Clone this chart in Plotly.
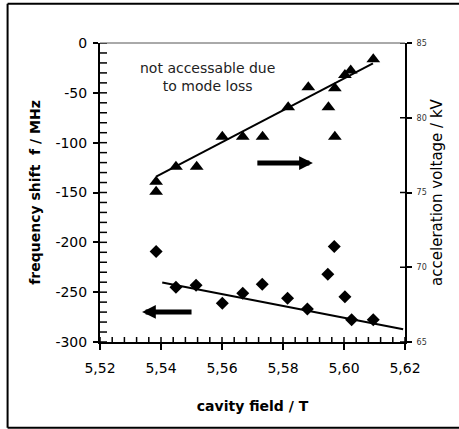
import plotly.graph_objects as go

# ---- data ----
field_tri = [5.5384, 5.5384, 5.5449, 5.5517, 5.5601, 5.5668, 5.5733, 5.5817,
             5.5883, 5.5949, 5.5970, 5.5970, 5.6003, 5.6022, 5.6096]
voltage_kv = [75.72, 75.05, 76.73, 76.73, 78.73, 78.73, 78.73, 80.70,
              82.04, 80.70, 78.73, 81.97, 82.86, 83.16, 83.91]

field_dia = [5.5384, 5.5449, 5.5515, 5.5601, 5.5668, 5.5732, 5.5815, 5.5880,
             5.5947, 5.5968, 5.6003, 5.6025, 5.6096]
shift_mhz = [-209.3, -245.0, -243.0, -261.1, -251.1, -242.0, -256.1, -266.8,
             -232.0, -204.3, -254.5, -277.8, -277.8]

# linear trend lines (end points)
trend_v_field = [5.5384, 5.6095]
trend_v_kv = [76.06, 83.63]
trend_f_field = [5.5404, 5.6194]
trend_f_mhz = [-240.4, -287.2]

x_tick_vals = [5.52, 5.54, 5.56, 5.58, 5.60, 5.62]
x_tick_text = ["5,52", "5,54", "5,56", "5,58", "5,60", "5,62"]
y_tick_vals = [-300, -250, -200, -150, -100, -50, 0]
y_tick_text = ["-300", "-250", "-200", "-150", "-100", "-50", "0"]
y2_tick_vals = [65, 70, 75, 80, 85]
y2_tick_text = ["65", "70", "75", "80", "85"]

X_RANGE = [5.52, 5.62]
Y_RANGE = [-300, 0]
Y2_RANGE = [65, 85]

W, H = 459, 429
M = dict(l=100, r=54, t=43, b=87)
PLOT_W = W - M["l"] - M["r"]
PLOT_H = H - M["t"] - M["b"]

FONT = "DejaVu Sans"

fig = go.Figure()
fig.add_trace(go.Scatter(x=trend_f_field, y=trend_f_mhz, mode="lines",
                         line=dict(color="black", width=2), yaxis="y", showlegend=False))
fig.add_trace(go.Scatter(x=field_dia, y=shift_mhz, mode="markers",
                         marker=dict(symbol="diamond", size=10, color="black"),
                         yaxis="y", showlegend=False))
fig.add_trace(go.Scatter(x=trend_v_field, y=trend_v_kv, mode="lines",
                         line=dict(color="black", width=2), yaxis="y2", showlegend=False))
fig.add_trace(go.Scatter(x=field_tri, y=voltage_kv, mode="markers",
                         marker=dict(symbol="triangle-up", size=12, color="black"),
                         yaxis="y2", showlegend=False))

# inner tick marks (minor ticks + inner half of the crossing major ticks),
# built from the axis ranges and drawn through the axes' scales
x_per_px = (X_RANGE[1] - X_RANGE[0]) / PLOT_W
y_per_px = (Y_RANGE[1] - Y_RANGE[0]) / PLOT_H
tx, ty = [], []
n_x = int(round((X_RANGE[1] - X_RANGE[0]) / 0.004))
for i in range(n_x + 1):
    xv = X_RANGE[0] + i * 0.004
    tx += [xv, xv, None]
    ty += [Y_RANGE[0], Y_RANGE[0] + 5 * y_per_px, None]
for yv in range(Y_RANGE[0], Y_RANGE[1] + 1, 10):
    tx += [X_RANGE[0], X_RANGE[0] + 7 * x_per_px, None]
    ty += [yv, yv, None]
fig.add_trace(go.Scatter(x=tx, y=ty, mode="lines", line=dict(color="black", width=1.5),
                         yaxis="y", showlegend=False, hoverinfo="skip", cliponaxis=False))
rx, ry = [], []
for yv in y2_tick_vals:
    rx += [X_RANGE[1] - 5 * x_per_px, X_RANGE[1], None]
    ry += [yv, yv, None]
fig.add_trace(go.Scatter(x=rx, y=ry, mode="lines", line=dict(color="black", width=1.5),
                         yaxis="y2", showlegend=False, hoverinfo="skip", cliponaxis=False))

common = dict(showgrid=False, zeroline=False, tickcolor="black", tickwidth=1.5)

fig.update_layout(
    width=W, height=H,
    margin=dict(**M, pad=0),
    paper_bgcolor="white", plot_bgcolor="white",
    font=dict(family=FONT, color="black", size=14),
    xaxis=dict(range=X_RANGE, tickvals=x_tick_vals, ticktext=x_tick_text,
               ticks="outside", ticklen=6, showline=True, linewidth=2, linecolor="black",
               tickfont=dict(size=14), ticklabelstandoff=6,
               title=dict(text="<b>cavity field / T</b>", font=dict(size=14), standoff=26),
               **common),
    yaxis=dict(range=Y_RANGE, tickvals=y_tick_vals, ticktext=y_tick_text,
               ticks="outside", ticklen=5, showline=True, linewidth=2, linecolor="black",
               tickfont=dict(size=14), ticklabelstandoff=3,
               title=dict(text="<b>frequency shift  f / MHz</b>", font=dict(size=14), standoff=12),
               **common),
    yaxis2=dict(range=Y2_RANGE, overlaying="y", side="right", anchor="x",
                tickvals=y2_tick_vals, ticktext=y2_tick_text,
                ticks="outside", ticklen=5, showline=True, linewidth=2, linecolor="black",
                tickfont=dict(size=8, color="#333"), ticklabelstandoff=3,
                title=dict(text="acceleration voltage / kV", font=dict(size=15), standoff=6),
                **common),
)

# top border of plot area and outer frame
fig.add_shape(type="line", xref="paper", yref="paper", x0=0, x1=1, y0=1, y1=1,
              line=dict(color="#555", width=1))
frame = dict(color="black", width=2)
fig.add_shape(type="line", xref="paper", yref="paper", x0=-0.303, x1=-0.303,
              y0=-0.287, y1=1.131, line=frame)
fig.add_shape(type="line", xref="paper", yref="paper", x0=-0.303, x1=1.3,
              y0=1.131, y1=1.131, line=frame)
fig.add_shape(type="line", xref="paper", yref="paper", x0=-0.303, x1=1.3,
              y0=-0.287, y1=-0.287, line=frame)

# text and arrows
fig.add_annotation(x=5.5554, y=-34, xref="x", yref="y",
                   text="not accessable due<br>to mode loss", showarrow=False,
                   font=dict(size=14, color="#222"), align="center")
fig.add_annotation(x=5.5898, y=-120.4, ax=5.5711, ay=-120.4, xref="x", yref="y",
                   axref="x", ayref="y", text="", showarrow=True,
                   arrowhead=2, arrowwidth=5, arrowsize=0.55, arrowcolor="black")
fig.add_annotation(x=5.5338, y=-269.8, ax=5.5505, ay=-269.8, xref="x", yref="y",
                   axref="x", ayref="y", text="", showarrow=True,
                   arrowhead=2, arrowwidth=5, arrowsize=0.55, arrowcolor="black")

fig.write_html("out.html")
